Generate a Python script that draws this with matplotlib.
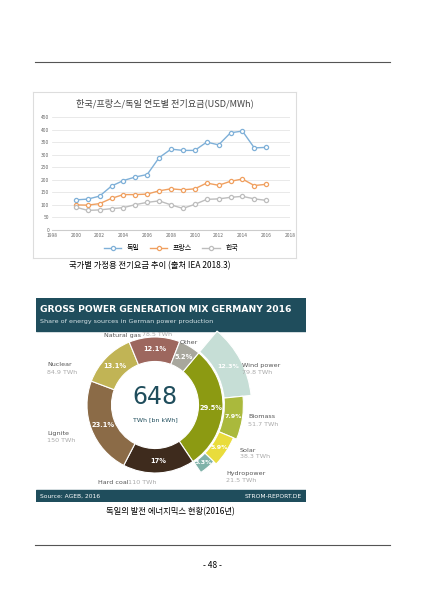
import numpy as np
import matplotlib
matplotlib.use("Agg")
import matplotlib.pyplot as plt
from matplotlib.patches import Wedge, Rectangle

plt.rcParams['font.family'] = ['Noto Sans CJK KR', 'DejaVu Sans']

W, H = 424, 599

# line chart data (USD/MWh)
years = list(range(2000, 2017))
germany = [120, 123, 135, 175, 197, 211, 221, 288, 322, 317, 317, 350, 339, 387, 394, 327, 329]
france = [100, 99, 105, 126, 141, 141, 143, 156, 164, 160, 164, 187, 178, 194, 203, 177, 182]
korea = [91, 78, 80, 85, 89, 101, 110, 116, 100, 86, 102, 122, 124, 130, 134, 124, 118]
series_names = ['독일', '프랑스', '한국']
series_colors = ['#7fb0d8', '#f0a060', '#bdbdbd']

# donut data, clockwise from top
inner_labels = ['Renewables', 'Hard coal', 'Lignite', 'Nuclear', 'Natural gas', 'Other']
inner_share = [29.5, 17, 23.1, 13.1, 12.1, 5.2]
inner_colors = ['#8c9a12', '#3e2b1d', '#8b6b47', '#c1b455', '#9d675e', '#a8a79d']
inner_pct = ['29.5%', '17%', '23.1%', '13.1%', '12.1%', '5.2%']
ren_labels = ['Wind power', 'Biomass', 'Solar', 'Hydropower']
ren_share = [12.3, 7.9, 5.9, 3.3]
ren_colors = ['#c6ded6', '#aab93c', '#e9dc3c', '#80b2a9']
ren_radius = [1.42, 1.3, 1.25, 1.2]


def px_axes(x, y, w, h):
    return fig.add_axes([x / W, 1 - (y + h) / H, w / W, h / H])


def px_text(x, y, s, **kw):
    fig.text(x / W, 1 - y / H, s, **kw)


fig = plt.figure(figsize=(W / 100, H / 100), dpi=100)
fig.add_artist(plt.Line2D([35 / W, 390 / W], [1 - 62 / H, 1 - 62 / H], color='#555555', lw=0.8))
fig.add_artist(plt.Line2D([35 / W, 390 / W], [1 - 545 / H, 1 - 545 / H], color='#555555', lw=0.8))
px_text(212, 566, '- 48 -', fontsize=6, ha='center', va='center')

# ---- line chart ----
box = px_axes(33, 92, 263, 166)
box.set_xticks([]); box.set_yticks([])
for s in box.spines.values():
    s.set_color('#dddddd')
px_text(165, 103, '한국/프랑스/독일 연도별 전기요금(USD/MWh)', fontsize=6.6, ha='center', va='center', color='#444444')

ax = px_axes(52, 117, 238, 113)
for name, vals, c in zip(series_names, [germany, france, korea], series_colors):
    ax.plot(years, vals, color=c, lw=1, marker='o', ms=3, mfc='white', mec=c, mew=0.9, label=name)
ax.set_xlim(1998, 2018)
ax.set_ylim(0, 450)
ax.set_xticks(range(1998, 2019, 2))
ax.set_yticks(range(0, 451, 50))
ax.tick_params(labelsize=3.5, length=0, colors='#666666', pad=2)
ax.grid(axis='y', color='#e0e0e0', lw=0.5)
for k in ['top', 'right', 'left']:
    ax.spines[k].set_visible(False)
ax.spines['bottom'].set_color('#cccccc')
ax.legend(loc='upper center', bbox_to_anchor=(0.5, -0.07), ncol=3, frameon=False, fontsize=5, handlelength=2.5, columnspacing=1.5)
px_text(150, 266, '국가별 가정용 전기요금 추이 (출처 IEA 2018.3)', fontsize=6, ha='center', va='center')

# ---- infographic ----
bg = px_axes(36, 298, 270, 204)
bg.set_xlim(0, 270); bg.set_ylim(204, 0); bg.axis('off')
bg.add_patch(Rectangle((0, 0), 270, 204, color='white'))
bg.add_patch(Rectangle((0, 0), 270, 33, color='#1f4d5c'))
bg.add_patch(Rectangle((0, 192), 270, 12, color='#1f4d5c'))
bg.text(4, 11, 'GROSS POWER GENERATION MIX GERMANY 2016', fontsize=6.6, fontweight='bold', color='white', va='center', family='DejaVu Sans')
bg.text(4, 24, 'Share of energy sources in German power production', fontsize=4.6, color='#d8e4e8', va='center', family='DejaVu Sans')
bg.text(4, 198, 'Source: AGEB, 2016', fontsize=4.3, color='white', va='center', family='DejaVu Sans')
bg.text(266, 198, 'STROM-REPORT.DE', fontsize=4.3, color='white', va='center', ha='right', family='DejaVu Sans')

R = 68.0
cx, cy = 155, 405
span = 1.6
d = px_axes(cx - span * R, cy - span * R, 2 * span * R, 2 * span * R)
d.set_xlim(-span, span); d.set_ylim(-span, span); d.set_aspect('equal'); d.axis('off')

ang = 50.0
for lab, sh, c, p in zip(inner_labels, inner_share, inner_colors, inner_pct):
    a2 = ang - sh * 3.6
    d.add_patch(Wedge((0, 0), 1.0, a2, ang, width=0.36, fc=c, ec='white', lw=0.8))
    mid = np.radians((ang + a2) / 2)
    d.text(0.82 * np.cos(mid), 0.82 * np.sin(mid), p, fontsize=4.8, color='white', ha='center', va='center', family='DejaVu Sans', fontweight='bold')
    ang = a2

ang = 50.0
for lab, sh, c, r in zip(ren_labels, ren_share, ren_colors, ren_radius):
    a2 = ang - sh * 3.6
    d.add_patch(Wedge((0, 0), r, a2, ang, width=r - 1.02, fc=c, ec='white', lw=0.8))
    mid = np.radians((ang + a2) / 2)
    rr = (1.02 + r) / 2
    d.text(rr * np.cos(mid), rr * np.sin(mid), f'{sh}%', fontsize=4.5, color='white', ha='center', va='center', family='DejaVu Sans', fontweight='bold')
    ang = a2

d.text(0, 0.12, '648', fontsize=17, color='#1f4d5c', ha='center', va='center', family='DejaVu Sans')
d.text(0, -0.22, 'TWh [bn kWh]', fontsize=4.5, color='#1f4d5c', ha='center', va='center', family='DejaVu Sans')

side = [
    (47, 365, 'Nuclear', '84.9 TWh'),
    (47, 433, 'Lignite', '150 TWh'),
    (242, 366, 'Wind power', '79.8 TWh'),
    (248, 417, 'Biomass', '51.7 TWh'),
    (240, 450, 'Solar', '38.3 TWh'),
    (226, 474, 'Hydropower', '21.5 TWh'),
]
for x, y, a, b in side:
    px_text(x, y, a, fontsize=4.6, color='#555555', family='DejaVu Sans', va='center')
    px_text(x, y + 7, b, fontsize=4.6, color='#aaaaaa', family='DejaVu Sans', va='center')
px_text(104, 335, 'Natural gas', fontsize=4.6, color='#555555', family='DejaVu Sans', va='center')
px_text(142, 335, '78.5 TWh', fontsize=4.6, color='#aaaaaa', family='DejaVu Sans', va='center')
px_text(180, 342, 'Other', fontsize=4.6, color='#555555', family='DejaVu Sans', va='center')
px_text(98, 482, 'Hard coal', fontsize=4.6, color='#555555', family='DejaVu Sans', va='center')
px_text(128, 482, '110 TWh', fontsize=4.6, color='#aaaaaa', family='DejaVu Sans', va='center')

px_text(170, 512, '독일의 발전 에너지믹스 현황(2016년)', fontsize=6, ha='center', va='center')

fig.savefig('out.png', dpi=100)
